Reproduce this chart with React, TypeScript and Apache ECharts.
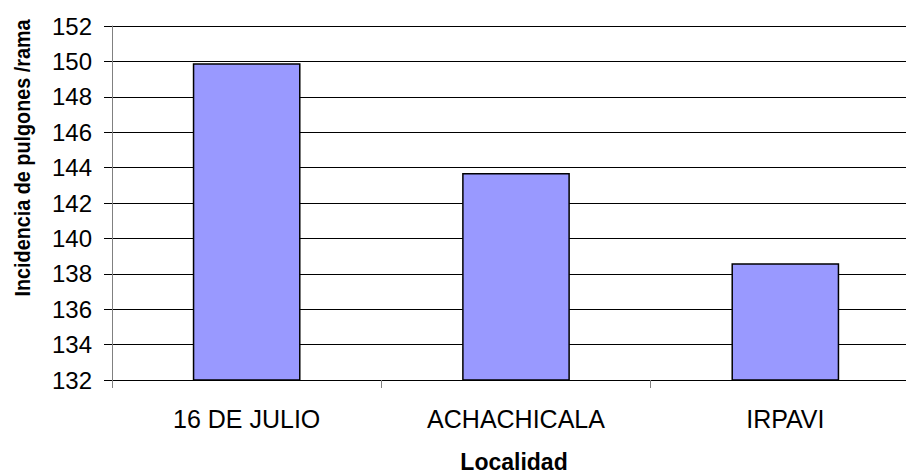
import React, { useEffect, useRef } from "react";
import * as echarts from "echarts";

// Localities and mean aphid counts per branch
const localidades = ["16 DE JULIO", "ACHACHICALA", "IRPAVI"];
const incidencia = [149.9, 143.7, 138.6];
const yMin = 132;
const yMax = 152;
const yStep = 2;

const yTitle = "Incidencia de pulgones /rama";
const xTitle = "Localidad";

const FONT = "'Liberation Sans', Arial, sans-serif";

export default function App() {
  const ref = useRef<HTMLDivElement>(null);

  useEffect(() => {
    if (!ref.current) return;
    const chart = echarts.init(ref.current, null, { renderer: "svg" });
    chart.setOption({
      animation: false,
      backgroundColor: "#ffffff",
      textStyle: { fontFamily: FONT },
      grid: {
        left: 112,
        right: 0,
        top: 26,
        bottom: 95,
        containLabel: false,
        outerBoundsMode: "none",
      },
      xAxis: {
        type: "category",
        data: localidades,
        axisLine: { show: true, lineStyle: { color: "#000000", width: 1 } },
        axisTick: {
          show: true,
          length: 8,
          lineStyle: { color: "#808080", width: 1 },
        },
        axisLabel: {
          color: "#000000",
          fontSize: 25,
          margin: 26,
          fontFamily: FONT,
        },
      },
      yAxis: {
        type: "value",
        min: yMin,
        max: yMax,
        interval: yStep,
        axisLine: { show: true, lineStyle: { color: "#808080", width: 1 } },
        axisTick: {
          show: true,
          inside: false,
          length: 8,
          lineStyle: { color: "#000000", width: 1 },
        },
        axisLabel: {
          color: "#000000",
          fontSize: 24,
          margin: 20,
          fontFamily: FONT,
        },
        splitLine: { show: true, lineStyle: { color: "#000000", width: 1 } },
      },
      series: [
        {
          type: "bar",
          data: incidencia,
          barWidth: "40%",
          itemStyle: {
            color: "#9999FF",
            borderColor: "#000000",
            borderWidth: 1.5,
          },
        },
      ],
      graphic: [
        {
          type: "text",
          x: 22,
          y: 158,
          rotation: Math.PI / 2,
          scaleX: 0.9,
          style: {
            text: yTitle,
            fill: "#000000",
            font: "bold 22px " + FONT,
            align: "center",
            verticalAlign: "middle",
          },
        },
        {
          type: "text",
          x: 514,
          y: 462,
          style: {
            text: xTitle,
            fill: "#000000",
            font: "bold 23px " + FONT,
            align: "center",
            verticalAlign: "middle",
          },
        },
      ],
    });
    return () => chart.dispose();
  }, []);

  return (
    <div
      style={{
        position: "fixed",
        left: 0,
        top: 0,
        width: 906,
        height: 475,
        overflow: "hidden",
        background: "#ffffff",
      }}
    >
      <div ref={ref} style={{ width: 920, height: 475 }} />
    </div>
  );
}
